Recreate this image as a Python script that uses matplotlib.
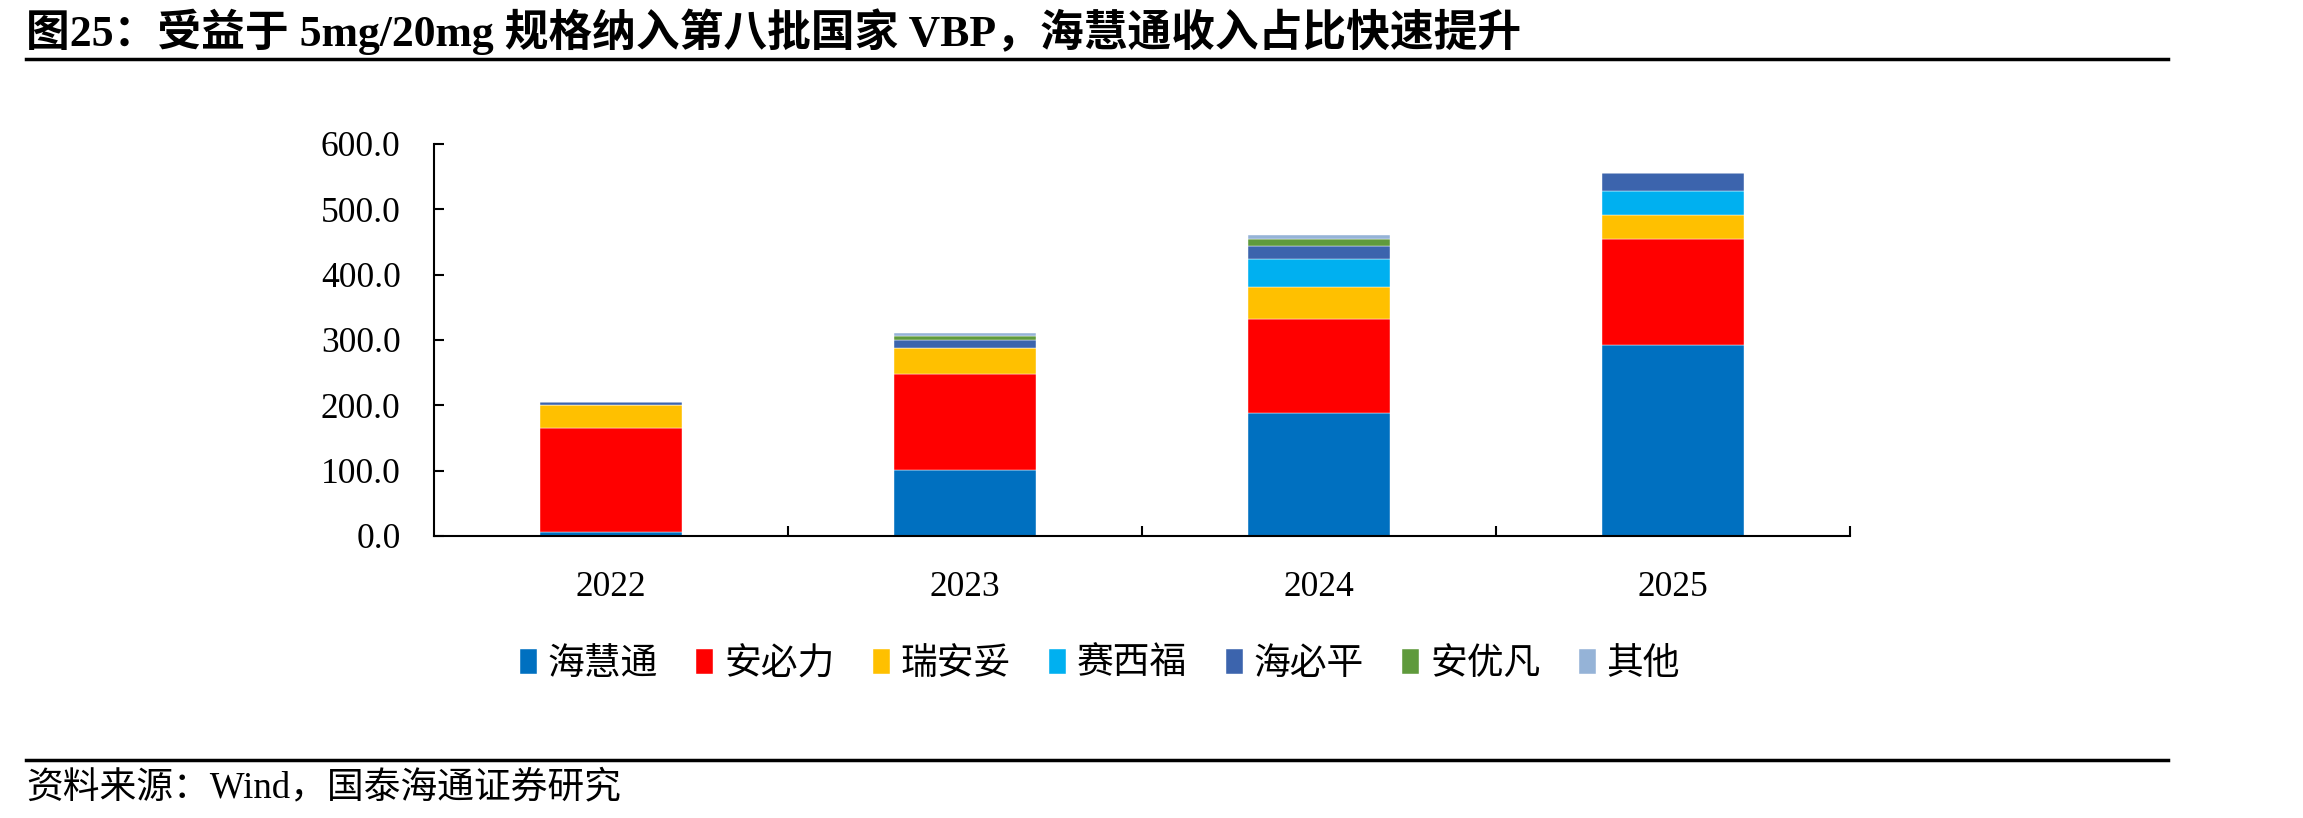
import matplotlib.pyplot as plt
import numpy as np

plt.rcParams['font.family'] = ['Liberation Serif', 'Noto Sans CJK SC']

# Data
years = ['2022', '2023', '2024', '2025']
series_names = ['海慧通', '安必力', '瑞安妥', '赛西福', '海必平', '安优凡', '其他']
haihuitong = [5.5, 101.5, 188.0, 292.0]
anbili = [160.5, 146.5, 144.0, 162.0]
ruiantuo = [34.5, 40.0, 49.0, 37.5]
saixifu = [0.0, 0.0, 43.0, 36.5]
haibiping = [4.0, 12.0, 20.0, 27.5]
anyoufan = [0.0, 6.0, 10.5, 0.0]
others = [0.5, 4.0, 6.0, 0.0]
colours = ['#0070C0', '#FF0000', '#FFC000', '#00B0F0', '#3C64AD', '#5F9A3C', '#95B3D7']

all_series = [haihuitong, anbili, ruiantuo, saixifu, haibiping, anyoufan, others]

fig = plt.figure(figsize=(23.03, 8.18), dpi=100)
ax = fig.add_axes([434 / 2303, 1 - 536 / 818, (1850 - 434) / 2303, (536 - 144) / 818])

x = np.arange(len(years))
bottom = np.zeros(len(years))
for name, vals, c in zip(series_names, all_series, colours):
    ax.bar(x, vals, width=0.4, bottom=bottom, color=c, label=name,
           edgecolor='white', linewidth=0.3)
    bottom += np.array(vals)

ax.set_xlim(-0.5, 3.5)
ax.set_ylim(0, 600)
ax.set_yticks(np.arange(0, 601, 100))
ax.set_yticklabels(['%.1f' % v for v in np.arange(0, 601, 100)])
ax.set_xticks(x)
ax.set_xticklabels(years)
ax.set_xticks(np.arange(0.5, 4.0, 1.0), minor=True)

for s in ['top', 'right']:
    ax.spines[s].set_visible(False)
for s in ['left', 'bottom']:
    ax.spines[s].set_linewidth(1.5)

ax.tick_params(axis='y', direction='in', length=7, width=1.5, labelsize=25.5, pad=24)
ax.tick_params(axis='x', which='major', length=0, labelsize=25.5, pad=25)
ax.tick_params(axis='x', which='minor', direction='in', length=7, width=1.5)

# Legend below the plot
fig.legend(loc='center', bbox_to_anchor=(1100 / 2303, 1 - 665 / 818), ncol=7,
           frameon=False, fontsize=26.5, handlelength=0.45, handleheight=0.65,
           handletextpad=0.3, columnspacing=1.05)

# Title and rules
fig.text(26 / 2303, 1 - 32 / 818,
         '图25：受益于 5mg/20mg 规格纳入第八批国家 VBP，海慧通收入占比快速提升',
         fontsize=31.5, fontweight='bold', va='center', ha='left')
fig.add_artist(plt.Line2D([26 / 2303, 2168 / 2303], [1 - 59 / 818, 1 - 59 / 818],
                          color='black', linewidth=2.5))
fig.add_artist(plt.Line2D([26 / 2303, 2168 / 2303], [1 - 760 / 818, 1 - 760 / 818],
                          color='black', linewidth=2.5))
fig.text(26 / 2303, 1 - 788 / 818, '资料来源：Wind，国泰海通证券研究',
         fontsize=26.5, va='center', ha='left')

fig.savefig('out.png', dpi=100)
